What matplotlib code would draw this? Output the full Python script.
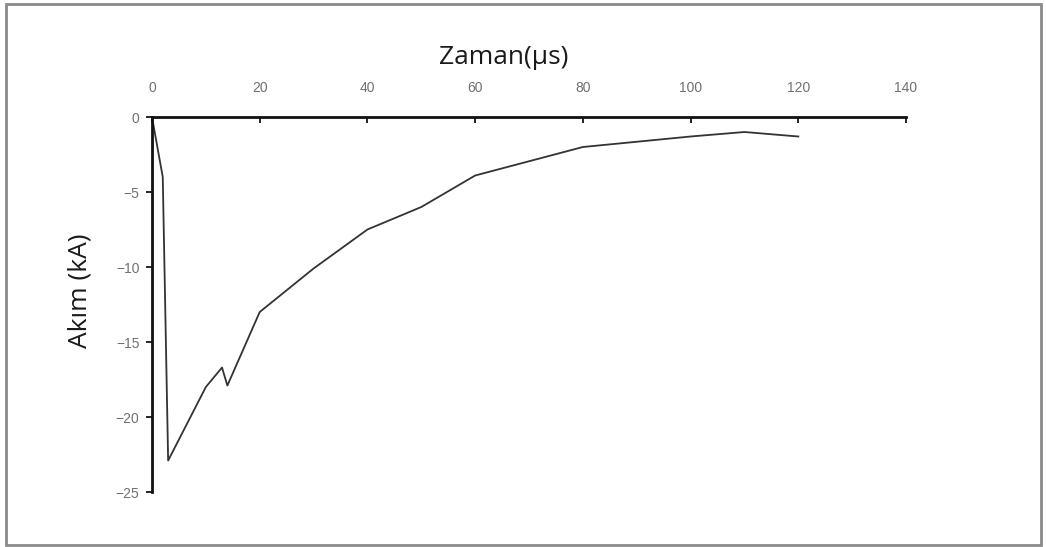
import matplotlib.pyplot as plt
from matplotlib.patches import Rectangle

# Akım-zaman eğrisi (okunan değerler)
zaman = [0, 1, 2, 3, 10, 13, 14, 20, 30, 40, 50, 60, 80, 100, 110, 120]
akim = [0, -2.0, -4.0, -22.9, -18.0, -16.7, -17.9, -13.0, -10.1, -7.5, -6.0, -3.9, -2.0, -1.3, -1.0, -1.3]

x_ticks = [0, 20, 40, 60, 80, 100, 120, 140]
y_ticks = [0, -5, -10, -15, -20, -25]

fig = plt.figure(figsize=(10.46, 5.47), dpi=100)
fig.patches.append(Rectangle((0.006, 0.004), 0.989, 0.988, transform=fig.transFigure,
                             fill=False, edgecolor='#8a8a8a', linewidth=2))

ax = fig.add_axes([0.1453, 0.1005, 0.7209, 0.6856])
ax.plot(zaman, akim, color='#333333', linewidth=1.3)

ax.set_xlim(0, 140)
ax.set_ylim(-25, 0)
ax.set_xticks(x_ticks)
ax.set_yticks(y_ticks)

ax.xaxis.tick_top()
ax.spines['bottom'].set_visible(False)
ax.spines['right'].set_visible(False)
for s in ['top', 'left']:
    ax.spines[s].set_linewidth(2)
    ax.spines[s].set_color('#111111')

ax.tick_params(axis='x', direction='in', length=4, width=1.2, pad=16,
               labelsize=10, labelcolor='#707070')
ax.tick_params(axis='y', direction='out', length=4, width=1.2, pad=5,
               labelsize=10, labelcolor='#707070')
for lab in ax.get_xticklabels() + ax.get_yticklabels():
    lab.set_family('Liberation Sans')
ax.set_yticklabels([f'{v}' if v == 0 else f'\u2212{abs(v)}' for v in y_ticks])

fig.text(504 / 1046, 1 - 58 / 547, 'Zaman(µs)', ha='center', va='center',
         fontsize=19, family='Open Sans', color='#1a1a1a')
fig.text(80 / 1046, 1 - 291 / 547, 'Akım (kA)', ha='center', va='center',
         rotation=90, fontsize=19, family='Open Sans', color='#1a1a1a')

fig.savefig('out.png', dpi=100)
